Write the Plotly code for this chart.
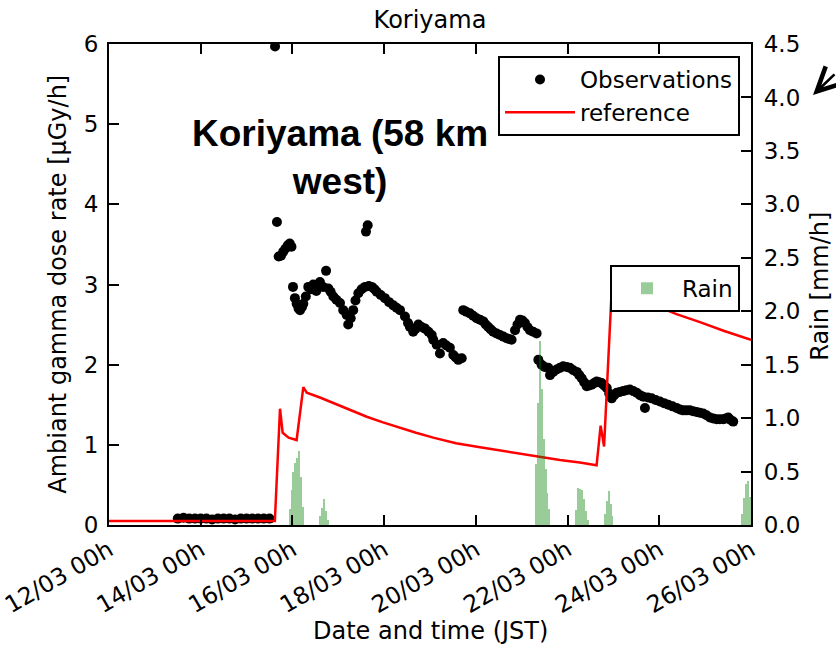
import pandas as pd
import plotly.graph_objects as go

# Time origin: 12 March 2011, 00h JST. All times below are hours after it.
BASE = pd.Timestamp("2011-03-12 00:00")

# Observed ambient gamma dose rate at Koriyama [µGy/h]
obs_hours = [
    36, 39, 42, 45, 48, 51, 54, 57, 60, 63, 66, 69, 72, 75, 78, 81, 84,
    86.9, 87.9, 88.8, 90.0, 91.2, 92.4, 93.6, 94.6, 95.5, 96.3, 97.3, 98.2,
    99.2, 100.0, 101.0, 101.7, 103.0, 104.3, 105.6, 106.9, 108.5, 110.4,
    112.0, 113.6, 114.8, 116.0, 117.4, 119.0, 120.9, 122.6, 124.4, 125.2,
    126.5, 127.8, 129.0, 130.5, 132.2, 134.0, 134.5, 135.4, 136.0, 137.5,
    139.0, 140.1, 142.2, 144.4, 146.6, 148.8, 150.5, 152.3, 154.9, 156.5,
    157.5, 159.2, 160.5, 161.9, 163.6, 165.4, 167.2, 168.9, 169.7, 171.5,
    173.2, 174.9, 176.6, 178.4, 180.2, 181.5, 182.8, 184.6,
    185.4, 187.0, 188.9, 190.6, 192.4, 194.2, 195.9, 197.2, 198.5, 199.8,
    201.1, 202.8, 204.6, 206.4, 208.1, 209.4, 210.7, 212.5, 213.8, 215.1,
    216.4, 217.7, 219.0, 220.3, 222.0, 223.8,
    224.7, 226.4, 228.0, 229.9, 230.8, 232.5, 234.3, 236.0, 237.7, 239.5,
    241.2, 243.0, 244.8, 246.1, 247.4, 248.7, 250.0, 251.3, 252.6, 253.9,
    255.2, 256.5, 257.8, 259.1, 260.5, 261.8, 263.1, 264.4, 265.7, 267.4,
    269.1, 270.8, 272.6, 274.4, 276.2, 277.9, 279.6, 280.5, 282.0, 284.0,
    286.1, 288.3, 290.5, 292.7, 294.9, 297.1, 298.8, 300.5, 302.2, 304.0,
    305.7, 307.5, 309.2, 311.0, 312.7, 314.5, 316.2, 318.0, 319.7, 321.5,
    322.8, 324.1, 325.4, 326.7,
]
obs_dose = [
    0.08, 0.09, 0.08, 0.08, 0.08, 0.08, 0.07, 0.08, 0.08, 0.08, 0.07, 0.08,
    0.08, 0.08, 0.08, 0.08, 0.08,
    5.97, 3.78, 3.35, 3.36, 3.41, 3.45, 3.49, 3.51, 3.47, 2.97, 2.83, 2.76,
    2.70, 2.68, 2.72, 2.76, 2.85, 2.97, 2.94, 3.00, 2.92, 3.03,
    2.97, 3.17, 2.95, 2.91, 2.85, 2.81, 2.77, 2.68, 2.62, 2.50,
    2.58, 2.68, 2.80, 2.89, 2.94, 2.97, 3.66, 3.74, 2.98, 2.97,
    2.94, 2.91, 2.87, 2.83, 2.78, 2.74, 2.71, 2.68, 2.60, 2.52,
    2.47, 2.41, 2.45, 2.50, 2.47, 2.45, 2.41, 2.37, 2.31, 2.25,
    2.14, 2.27, 2.24, 2.21, 2.12, 2.09, 2.06, 2.08,
    2.68, 2.66, 2.64, 2.61, 2.58, 2.56, 2.54, 2.50, 2.47, 2.44,
    2.41, 2.39, 2.37, 2.35, 2.33, 2.32, 2.31, 2.43, 2.50, 2.56,
    2.55, 2.52, 2.47, 2.43, 2.41, 2.39,
    2.06, 2.00, 1.97, 1.96, 1.87, 1.91, 1.94, 1.96, 1.98, 1.97,
    1.96, 1.93, 1.91, 1.87, 1.83, 1.78, 1.73, 1.74, 1.75, 1.77,
    1.79, 1.78, 1.77, 1.74, 1.71, 1.64, 1.58, 1.62, 1.65, 1.66,
    1.67, 1.68, 1.69, 1.67, 1.65, 1.62, 1.60, 1.46, 1.59, 1.58,
    1.56, 1.54, 1.52, 1.50, 1.48, 1.46, 1.44, 1.43, 1.43, 1.43,
    1.42, 1.41, 1.40, 1.39, 1.37, 1.34, 1.33, 1.32, 1.32, 1.32,
    1.33, 1.34, 1.31, 1.29,
]

# Simulated ("reference") dose rate [µGy/h]
ref_hours = [0, 86.8, 89.5, 90.9, 94.0, 98.2, 101.7, 103.5, 110.4, 117.4,
             126.1, 134.9, 143.4, 152.3, 160.7, 169.7, 181.6, 194.2, 204.6,
             215.1, 225.5, 236.0, 246.4, 255.2, 257.3, 259.1, 263.2, 274.0,
             285.7, 297.0, 309.3, 322.0, 336.0]
ref_dose = [0.05, 0.05, 1.45, 1.15, 1.09, 1.06, 1.72, 1.65, 1.59, 1.52,
            1.43, 1.35, 1.28, 1.21, 1.15, 1.09, 1.02, 0.97, 0.93,
            0.89, 0.85, 0.81, 0.78, 0.745, 1.24, 0.98, 2.98, 2.85,
            2.74, 2.63, 2.53, 2.42, 2.31]

# Hourly rain intensity [mm/h]; each bar starts at the given hour
rain_hours = [94, 95, 96, 97, 98, 99, 100, 101,
              110, 111, 112, 113, 114,
              223, 224, 225, 226, 227, 228, 229, 230,
              244, 245, 246, 247, 248, 249, 250,
              259, 260, 261, 262, 263,
              331, 332, 333, 334, 335]
rain_mm = [0.15, 0.33, 0.50, 0.58, 0.63, 0.69, 0.45, 0.17,
           0.08, 0.16, 0.24, 0.13, 0.05,
           0.57, 1.14, 1.72, 1.27, 0.80, 0.52, 0.30, 0.15,
           0.14, 0.35, 0.34, 0.33, 0.24, 0.13, 0.05,
           0.10, 0.22, 0.32, 0.20, 0.08,
           0.10, 0.25, 0.38, 0.41, 0.26]


def to_time(hours):
    return BASE + pd.to_timedelta(hours, unit="h")


FONT = "DejaVu Sans"
FS = 24       # titles
FS_TICK = 23  # tick labels and legend text

# plot-area geometry in pixels (used to place free text in paper units)
L, R, T, B = 109, 751, 44, 525.5
W, H = R - L, B - T


def px(xp):
    return (xp - L) / W


def py(yp):
    return (B - yp) / H


fig = go.Figure()

fig.add_trace(go.Scatter(
    x=to_time(obs_hours), y=obs_dose, mode="markers", name="Observations",
    marker=dict(color="black", size=10, line=dict(width=0)),
    legend="legend",
))
fig.add_trace(go.Scatter(
    x=to_time(ref_hours), y=ref_dose, mode="lines", name="reference",
    line=dict(color="#ff0000", width=2.5), legend="legend",
))
fig.add_trace(go.Bar(
    x=to_time(rain_hours), y=rain_mm, name="Rain", yaxis="y2",
    width=3600000, offset=0,
    marker=dict(color="rgba(0,128,0,0.4)", line=dict(width=0)),
    legend="legend2",
))

axis_common = dict(
    showline=True, linecolor="black", linewidth=2.2,
    ticks="inside", ticklen=10, tickwidth=1.5, tickcolor="black",
    showgrid=False, zeroline=False, automargin=False,
    ticklabeloverflow="allow",
)

fig.update_layout(
    width=836, height=646,
    margin=dict(l=L, r=836 - R, t=T, b=646 - B),
    paper_bgcolor="white", plot_bgcolor="white",
    font=dict(family=FONT, size=FS, color="black"),
    title=dict(text="Koriyama", x=0.5, xref="paper", xanchor="center",
               y=1 - 20 / 646, yref="container", yanchor="middle",
               font=dict(family=FONT, size=FS, color="black")),
    xaxis=dict(
        type="date",
        range=[BASE, BASE + pd.Timedelta(days=14)],
        tick0=BASE, dtick=2 * 86400000,
        tickformat="%d/%m %Hh", tickangle=-30,
        mirror="ticks",
        tickfont=dict(family=FONT, size=23.5, color="black"),
        **axis_common,
    ),
    yaxis=dict(range=[0, 6], dtick=1, side="left", ticklabelstandoff=4,
               tickfont=dict(family=FONT, size=FS_TICK, color="black"),
               **axis_common),
    yaxis2=dict(range=[0, 4.5], dtick=0.5, tickformat=".1f",
                overlaying="y", side="right", ticklabelstandoff=6,
                tickfont=dict(family=FONT, size=FS_TICK, color="black"),
                **axis_common),
    bargap=0,
    showlegend=True,
    legend=dict(
        x=px(740), y=py(56), xanchor="right", yanchor="top",
        bgcolor="white", bordercolor="black", borderwidth=2,
        font=dict(family=FONT, size=FS_TICK, color="black"),
        itemwidth=70,
    ),
    legend2=dict(
        x=px(740), y=py(265), xanchor="right", yanchor="top",
        bgcolor="white", bordercolor="black", borderwidth=2,
        font=dict(family=FONT, size=FS_TICK, color="black"),
        itemwidth=60,
    ),
)

# Axis titles and the location caption
fig.add_annotation(text="Date and time (JST)", xref="paper", yref="paper",
                   x=px(431), y=py(632), xanchor="center", yanchor="middle",
                   showarrow=False, font=dict(family=FONT, size=FS))
fig.add_annotation(text="Ambiant gamma dose rate [µGy/h]", xref="paper",
                   yref="paper", x=px(58), y=py(285), textangle=-90,
                   xanchor="center", yanchor="middle",
                   showarrow=False, font=dict(family=FONT, size=FS))
fig.add_annotation(text="Rain [mm/h]", xref="paper", yref="paper",
                   x=px(820), y=py(287), textangle=-90,
                   xanchor="center", yanchor="middle",
                   showarrow=False, font=dict(family=FONT, size=FS))
fig.add_annotation(text="<b>Koriyama (58 km<br>west)</b>", xref="paper",
                   yref="paper", x=px(339.5), y=py(158),
                   xanchor="center", yanchor="middle",
                   showarrow=False, align="center",
                   font=dict(family="Liberation Sans", size=37, color="black"))
# Pointer towards the right-hand scale
fig.add_annotation(text="", xref="paper", yref="paper",
                   x=px(813), y=py(95), ax=40, ay=-22, showarrow=True,
                   arrowhead=5, arrowsize=1.8, arrowwidth=2.6,
                   arrowcolor="black")

fig.write_html("out.html")
